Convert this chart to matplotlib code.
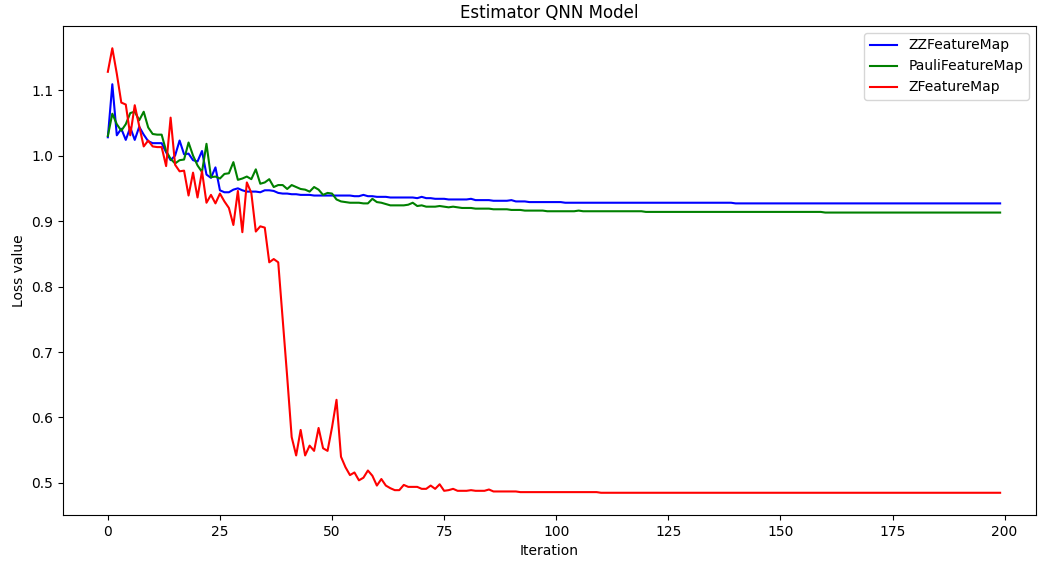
import matplotlib
matplotlib.use("Agg")
import matplotlib.pyplot as plt

title = "Estimator QNN Model"
x_label = "Iteration"
y_label = "Loss value"
series_names = ["ZZFeatureMap", "PauliFeatureMap", "ZFeatureMap"]

zz_loss = [
    1.028, 1.109, 1.031, 1.041, 1.024, 1.043, 1.024, 1.044, 1.032, 1.022,
    1.019, 1.019, 1.019, 1.005, 0.993, 1.000, 1.023, 1.002, 1.003, 0.993,
    0.991, 1.007, 0.971, 0.966, 0.982, 0.947, 0.944, 0.944, 0.948, 0.950,
    0.947, 0.945, 0.945, 0.945, 0.944, 0.947, 0.947, 0.946, 0.943, 0.942,
    0.942, 0.941, 0.941, 0.940, 0.940, 0.940, 0.939, 0.939, 0.939, 0.939,
    0.939, 0.939, 0.939, 0.939, 0.939, 0.938, 0.938, 0.940, 0.938, 0.938,
    0.937, 0.937, 0.937, 0.936, 0.936, 0.936, 0.936, 0.936, 0.936, 0.935,
    0.937, 0.935, 0.935, 0.934, 0.934, 0.934, 0.933, 0.933, 0.933, 0.933,
    0.933, 0.934, 0.932, 0.932, 0.932, 0.932, 0.931, 0.931, 0.931, 0.931,
    0.932, 0.930, 0.930, 0.930, 0.929, 0.929, 0.929, 0.929, 0.929, 0.929,
    0.929, 0.929, 0.928, 0.928, 0.928, 0.928, 0.928, 0.928, 0.928, 0.928,
    0.928, 0.928, 0.928, 0.928, 0.928, 0.928, 0.928, 0.928, 0.928, 0.928,
    0.928, 0.928, 0.928, 0.928, 0.928, 0.928, 0.928, 0.928, 0.928, 0.928,
    0.928, 0.928, 0.928, 0.928, 0.928, 0.928, 0.928, 0.928, 0.928, 0.928,
    0.927, 0.927, 0.927, 0.927, 0.927, 0.927, 0.927, 0.927, 0.927, 0.927,
    0.927, 0.927, 0.927, 0.927, 0.927, 0.927, 0.927, 0.927, 0.927, 0.927,
    0.927, 0.927, 0.927, 0.927, 0.927, 0.927, 0.927, 0.927, 0.927, 0.927,
    0.927, 0.927, 0.927, 0.927, 0.927, 0.927, 0.927, 0.927, 0.927, 0.927,
    0.927, 0.927, 0.927, 0.927, 0.927, 0.927, 0.927, 0.927, 0.927, 0.927,
    0.927, 0.927, 0.927, 0.927, 0.927, 0.927, 0.927, 0.927, 0.927, 0.927,
]

pauli_loss = [
    1.030, 1.064, 1.048, 1.038, 1.048, 1.065, 1.067, 1.054, 1.067, 1.043,
    1.033, 1.032, 1.032, 1.007, 0.995, 0.988, 0.993, 0.994, 1.020, 1.000,
    0.985, 0.975, 1.018, 0.967, 0.968, 0.965, 0.972, 0.973, 0.990, 0.963,
    0.965, 0.968, 0.964, 0.979, 0.957, 0.959, 0.964, 0.952, 0.955, 0.955,
    0.949, 0.955, 0.952, 0.949, 0.948, 0.945, 0.952, 0.948, 0.940, 0.943,
    0.942, 0.933, 0.930, 0.929, 0.928, 0.928, 0.928, 0.927, 0.927, 0.934,
    0.929, 0.928, 0.926, 0.924, 0.924, 0.924, 0.924, 0.925, 0.928, 0.923,
    0.924, 0.922, 0.922, 0.922, 0.923, 0.922, 0.921, 0.922, 0.921, 0.920,
    0.920, 0.920, 0.919, 0.919, 0.919, 0.919, 0.918, 0.918, 0.918, 0.918,
    0.917, 0.917, 0.917, 0.916, 0.916, 0.916, 0.916, 0.916, 0.915, 0.915,
    0.915, 0.915, 0.915, 0.915, 0.915, 0.916, 0.915, 0.915, 0.915, 0.915,
    0.915, 0.915, 0.915, 0.915, 0.915, 0.915, 0.915, 0.915, 0.915, 0.915,
    0.914, 0.914, 0.914, 0.914, 0.914, 0.914, 0.914, 0.914, 0.914, 0.914,
    0.914, 0.914, 0.914, 0.914, 0.914, 0.914, 0.914, 0.914, 0.914, 0.914,
    0.914, 0.914, 0.914, 0.914, 0.914, 0.914, 0.914, 0.914, 0.914, 0.914,
    0.914, 0.914, 0.914, 0.914, 0.914, 0.914, 0.914, 0.914, 0.914, 0.914,
    0.913, 0.913, 0.913, 0.913, 0.913, 0.913, 0.913, 0.913, 0.913, 0.913,
    0.913, 0.913, 0.913, 0.913, 0.913, 0.913, 0.913, 0.913, 0.913, 0.913,
    0.913, 0.913, 0.913, 0.913, 0.913, 0.913, 0.913, 0.913, 0.913, 0.913,
    0.913, 0.913, 0.913, 0.913, 0.913, 0.913, 0.913, 0.913, 0.913, 0.913,
]

z_loss = [
    1.128, 1.164, 1.125, 1.081, 1.078, 1.031, 1.077, 1.045, 1.014, 1.023,
    1.014, 1.013, 1.013, 0.984, 1.058, 0.986, 0.976, 0.977, 0.939, 0.974,
    0.936, 0.976, 0.928, 0.940, 0.927, 0.942, 0.930, 0.920, 0.894, 0.946,
    0.883, 0.959, 0.943, 0.884, 0.892, 0.890, 0.837, 0.842, 0.837, 0.749,
    0.662, 0.570, 0.542, 0.581, 0.542, 0.557, 0.549, 0.584, 0.553, 0.549,
    0.585, 0.627, 0.540, 0.524, 0.512, 0.516, 0.504, 0.508, 0.519, 0.511,
    0.496, 0.506, 0.496, 0.492, 0.489, 0.489, 0.497, 0.494, 0.494, 0.494,
    0.491, 0.491, 0.496, 0.491, 0.498, 0.488, 0.489, 0.491, 0.488, 0.488,
    0.488, 0.489, 0.488, 0.488, 0.488, 0.490, 0.487, 0.487, 0.487, 0.487,
    0.487, 0.487, 0.486, 0.486, 0.486, 0.486, 0.486, 0.486, 0.486, 0.486,
    0.486, 0.486, 0.486, 0.486, 0.486, 0.486, 0.486, 0.486, 0.486, 0.486,
    0.485, 0.485, 0.485, 0.485, 0.485, 0.485, 0.485, 0.485, 0.485, 0.485,
    0.485, 0.485, 0.485, 0.485, 0.485, 0.485, 0.485, 0.485, 0.485, 0.485,
    0.485, 0.485, 0.485, 0.485, 0.485, 0.485, 0.485, 0.485, 0.485, 0.485,
    0.485, 0.485, 0.485, 0.485, 0.485, 0.485, 0.485, 0.485, 0.485, 0.485,
    0.485, 0.485, 0.485, 0.485, 0.485, 0.485, 0.485, 0.485, 0.485, 0.485,
    0.485, 0.485, 0.485, 0.485, 0.485, 0.485, 0.485, 0.485, 0.485, 0.485,
    0.485, 0.485, 0.485, 0.485, 0.485, 0.485, 0.485, 0.485, 0.485, 0.485,
    0.485, 0.485, 0.485, 0.485, 0.485, 0.485, 0.485, 0.485, 0.485, 0.485,
    0.485, 0.485, 0.485, 0.485, 0.485, 0.485, 0.485, 0.485, 0.485, 0.485,
]

iterations = list(range(len(zz_loss)))
colors = ["blue", "green", "red"]

fig = plt.figure(figsize=(10.38, 5.63), dpi=100)
ax = fig.add_axes([63 / 1038, 48 / 563, (1036 - 63) / 1038, (515 - 26) / 563])

for vals, name, c in zip([zz_loss, pauli_loss, z_loss], series_names, colors):
    ax.plot(iterations, vals, color=c, label=name, linewidth=1.5)

ax.set_xlim(-10.0, 207.0)
ax.set_title(title)
ax.set_xlabel(x_label)
ax.set_ylabel(y_label)
ax.legend(loc="upper right")

fig.savefig("out.png", dpi=100)
